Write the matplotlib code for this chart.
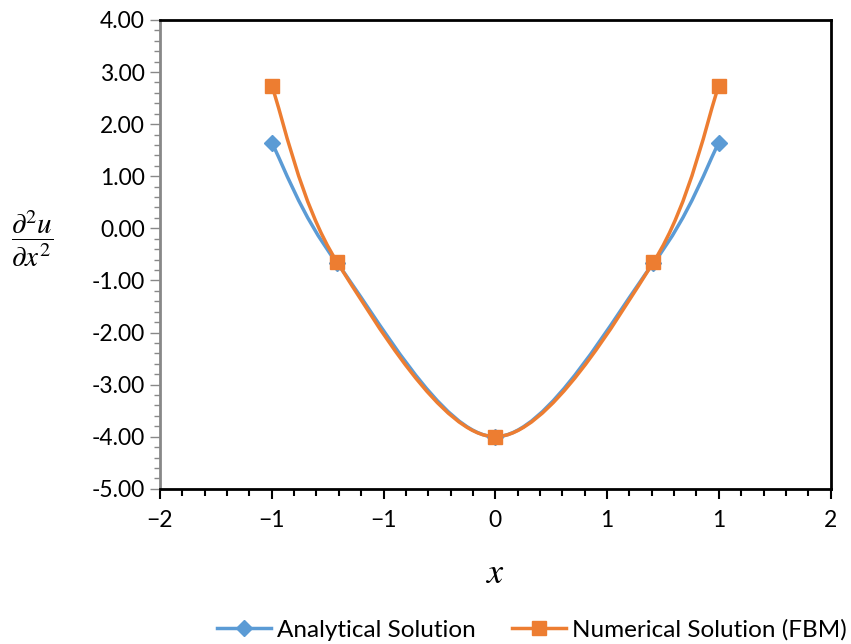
import matplotlib
matplotlib.use("Agg")
import matplotlib.pyplot as plt
from matplotlib.path import Path
from matplotlib.patches import PathPatch
from matplotlib.ticker import MultipleLocator, FixedLocator
import numpy as np

plt.rcParams['font.family'] = ['Lato', 'DejaVu Sans']
plt.rcParams['mathtext.fontset'] = 'stix'

# data
x = [-1.333, -0.943, 0.0, 0.943, 1.333]
analytical = [1.64, -0.67, -4.00, -0.67, 1.64]
numerical = [2.73, -0.65, -4.00, -0.65, 2.73]
xticks = [-2, -1.3333, -0.6667, 0, 0.6667, 1.3333, 2]
xlabels = ['\u22122', '\u22121', '\u22121', '0', '1', '1', '2']

blue = '#5B9BD5'
orange = '#ED7D31'


def smooth_path(xs, ys):
    # excel-like smoothed line: cubic bezier, catmull-rom control points
    p = np.column_stack([xs, ys])
    n = len(p)
    verts = [p[0]]
    codes = [Path.MOVETO]
    for i in range(n - 1):
        prev = p[i - 1] if i > 0 else p[i]
        nxt = p[i + 2] if i + 2 < n else p[i + 1]
        c1 = p[i] + (p[i + 1] - prev) / 6
        c2 = p[i + 1] - (nxt - p[i]) / 6
        verts += [c1, c2, p[i + 1]]
        codes += [Path.CURVE4] * 3
    return Path(verts, codes)


fig = plt.figure(figsize=(8.51, 6.44), dpi=100)
ax = fig.add_axes([0.188, 0.241, 0.788, 0.728])

for ys, c, m, ms, lab in [(analytical, blue, 'D', 8, 'Analytical Solution'),
                          (numerical, orange, 's', 10, 'Numerical Solution (FBM)')]:
    ax.add_patch(PathPatch(smooth_path(x, ys), fill=False, edgecolor=c, lw=2.5,
                           capstyle='round', zorder=2))
    ax.plot(x, ys, linestyle='none', marker=m, ms=ms, color=c, zorder=3)
    ax.plot([], [], color=c, lw=2.5, marker=m, ms=ms, label=lab)

ax.set_xlim(-2, 2)
ax.set_ylim(-5, 4)
ax.xaxis.set_major_locator(FixedLocator(xticks))
ax.set_xticklabels(xlabels)
ax.xaxis.set_minor_locator(MultipleLocator(4 / 30))
ax.yaxis.set_major_locator(MultipleLocator(1))
ax.yaxis.set_minor_locator(MultipleLocator(0.2))
ax.yaxis.set_major_formatter(lambda v, pos: f'{v:.2f}')

ax.tick_params(axis='both', which='major', labelsize=16.5, direction='out')
ax.tick_params(axis='y', which='major', length=7, width=1, color='#888888', pad=4)
ax.tick_params(axis='y', which='minor', length=4, width=1, color='#888888')
ax.tick_params(axis='x', which='major', length=7, width=1.5, color='black', pad=8)
ax.tick_params(axis='x', which='minor', length=5, width=1.5, color='black')

for s in ['top', 'right', 'bottom']:
    ax.spines[s].set_color('black')
    ax.spines[s].set_linewidth(2)
ax.spines['left'].set_color('#888888')
ax.spines['left'].set_linewidth(2)

ax.set_xlabel('$x$', fontsize=26, labelpad=18)
fig.text(0.038, 0.63, r'$\dfrac{\partial^2 u}{\partial x^2}$', fontsize=21,
         ha='center', va='center')

fig.legend(loc='center', bbox_to_anchor=(0.625, 0.022), ncol=2, frameon=False,
           fontsize=17.5, handlelength=2.2, columnspacing=1.5, handletextpad=0.25,
           borderpad=0.1)

fig.savefig('out.png', dpi=100)
